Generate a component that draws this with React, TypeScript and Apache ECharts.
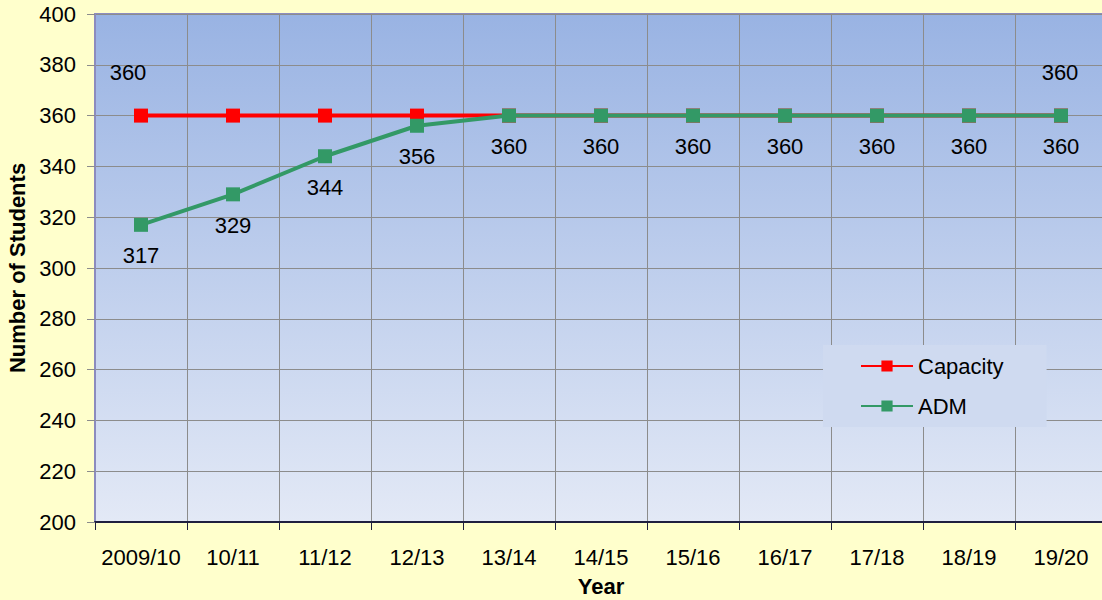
import React, { useEffect, useRef } from "react";
import * as echarts from "echarts";

const categories = ["2009/10", "10/11", "11/12", "12/13", "13/14", "14/15", "15/16", "16/17", "17/18", "18/19", "19/20"];
const capacity = [360, 360, 360, 360, 360, 360, 360, 360, 360, 360, 360];
const adm = [317, 329, 344, 356, 360, 360, 360, 360, 360, 360, 360];
const yTicks = { min: 200, max: 400, interval: 20 };

const FONT = "'Liberation Sans', Arial, sans-serif";
const FS = 22;

export default function App() {
  const ref = useRef<HTMLDivElement>(null);
  useEffect(() => {
    if (!ref.current) return;
    const chart = echarts.init(ref.current, null, { renderer: "svg" });
    const capData = capacity.map((v, i) => {
      if (i === 0) {
        return { value: v, label: { show: true, position: "top", distance: 25, offset: [-13, 0] } };
      }
      if (i === capacity.length - 1) {
        return { value: v, label: { show: true, position: "top", distance: 25, offset: [-1, 0] } };
      }
      return { value: v };
    });
    chart.setOption({
      animation: false,
      backgroundColor: "#FFFFCC",
      textStyle: { fontFamily: FONT },
      grid: {
        left: 95,
        top: 14,
        right: -5,
        bottom: 78,
        outerBoundsMode: "none",
        containLabel: false,
        show: true,
        borderColor: "#8C8CBE",
        borderWidth: 2,
        backgroundColor: new echarts.graphic.LinearGradient(0, 0, 0, 1, [
          { offset: 0, color: "#99B3E3" },
          { offset: 1, color: "#E3E9F6" },
        ]),
      },
      legend: {
        orient: "vertical",
        left: 823,
        top: 345,
        itemWidth: 52,
        itemHeight: 14,
        itemGap: 18,
        padding: [10, 43, 10, 37],
        backgroundColor: "#CFDAF0",
        textStyle: { fontSize: FS, color: "#000", fontFamily: FONT },
        data: ["Capacity", "ADM"],
      },
      xAxis: {
        type: "category",
        data: categories,
        boundaryGap: true,
        name: "Year",
        nameLocation: "middle",
        nameGap: 53,
        nameTextStyle: { fontSize: FS, fontWeight: "bold", color: "#000", fontFamily: FONT },
        axisLine: { lineStyle: { color: "#1F1F3F", width: 2 } },
        axisTick: { show: true, length: 8, alignWithLabel: false, lineStyle: { color: "#1F1F3F" } },
        axisLabel: { fontSize: FS, color: "#000", margin: 24, interval: 0, fontFamily: FONT },
        splitLine: { show: true, interval: 0, lineStyle: { color: "#8C8C8C", width: 1 } },
      },
      yAxis: {
        type: "value",
        min: yTicks.min,
        max: yTicks.max,
        interval: yTicks.interval,
        name: "Number of Students",
        nameLocation: "middle",
        nameGap: 66,
        nameTextStyle: { fontSize: FS, fontWeight: "bold", color: "#000", fontFamily: FONT },
        axisLine: { show: true, lineStyle: { color: "#8C8CBE", width: 2 } },
        axisTick: { show: true, length: 8, lineStyle: { color: "#8C8C8C" } },
        axisLabel: { fontSize: FS, color: "#000", margin: 19, fontFamily: FONT },
        splitLine: { show: true, lineStyle: { color: "#8C8C8C", width: 1 } },
      },
      series: [
        {
          name: "Capacity",
          type: "line",
          data: capData,
          symbol: "rect",
          symbolSize: 14,
          itemStyle: { color: "#FF0000" },
          lineStyle: { color: "#FF0000", width: 4 },
          label: { show: false, fontSize: FS, color: "#000", fontFamily: FONT },
          z: 2,
        },
        {
          name: "ADM",
          type: "line",
          data: adm,
          symbol: "rect",
          symbolSize: 14,
          itemStyle: { color: "#339966" },
          lineStyle: { color: "#339966", width: 4 },
          label: { show: true, position: "bottom", distance: 13, fontSize: FS, color: "#000", fontFamily: FONT },
          z: 3,
        },
      ],
    });
    return () => chart.dispose();
  }, []);
  return <div ref={ref} style={{ position: "absolute", left: 0, top: 0, width: 1102, height: 600 }} />;
}
